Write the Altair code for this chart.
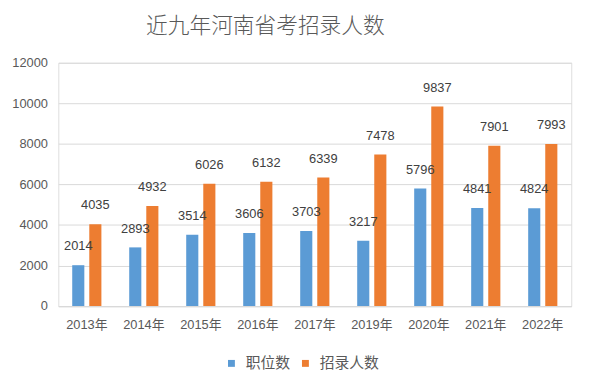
import altair as alt
import pandas as pd

years = ["2013年", "2014年", "2015年", "2016年", "2017年", "2019年", "2020年", "2021年", "2022年"]
positions = [2014, 2893, 3514, 3606, 3703, 3217, 5796, 4841, 4824]
recruits = [4035, 4932, 6026, 6132, 6339, 7478, 9837, 7901, 7993]
series = ["职位数", "招录人数"]
colors = ["#5B9BD5", "#ED7D31"]

rows = []
for i, y in enumerate(years):
    rows.append({"year": y, "series": series[0], "value": positions[i]})
    rows.append({"year": y, "series": series[1], "value": recruits[i]})
df = pd.DataFrame(rows)

FONT = "Liberation Sans, Noto Sans CJK SC, sans-serif"

x = alt.X("year:N", sort=years, title=None,
          scale=alt.Scale(paddingInner=0, paddingOuter=0),
          axis=alt.Axis(labelAngle=0, ticks=False, domainColor="#D9D9D9",
                        labelColor="#595959", labelFontSize=13, labelPadding=13,
                        labelFont=FONT))
xo = alt.XOffset("series:N", sort=series,
                 scale=alt.Scale(paddingInner=0.29, paddingOuter=0.815))
y = alt.Y("value:Q", title=None,
          scale=alt.Scale(domain=[0, 12000], nice=False),
          axis=alt.Axis(values=[0, 2000, 4000, 6000, 8000, 10000, 12000], format="d",
                        domain=False, ticks=False, gridColor="#D9D9D9",
                        labelColor="#595959", labelFontSize=13, labelPadding=11,
                        labelFont=FONT))

base = alt.Chart(df).encode(x=x, xOffset=xo, y=y)

bars = base.mark_bar().encode(
    color=alt.Color("series:N", sort=series,
                    scale=alt.Scale(domain=series, range=colors),
                    legend=alt.Legend(title=None, orient="none", direction="horizontal",
                                      legendX=168, legendY=297,
                                      symbolType="square", symbolSize=49,
                                      symbolStrokeWidth=0, labelFontSize=15,
                                      labelColor="#595959", labelFont=FONT,
                                      labelOffset=7, columnPadding=7))
)

labels = base.mark_text(baseline="bottom", dy=-12, fontSize=13, color="#404040",
                        font=FONT).encode(text=alt.Text("value:Q", format="d"))

chart = (bars + labels).properties(
    width=520, height=246.6,
    title=alt.TitleParams("近九年河南省考招录人数", anchor="start", frame="group",
                          dx=89, offset=19, fontSize=22, fontWeight=300,
                          color="#595959", font="Noto Sans CJK SC, sans-serif"),
    autosize=alt.AutoSizeParams(type="none"),
    padding={"left": 51, "top": 53, "right": 20, "bottom": 68},
).configure_view(stroke=None).configure(background="white")

chart.save("out.html", embed_options={"renderer": "svg", "actions": False})
